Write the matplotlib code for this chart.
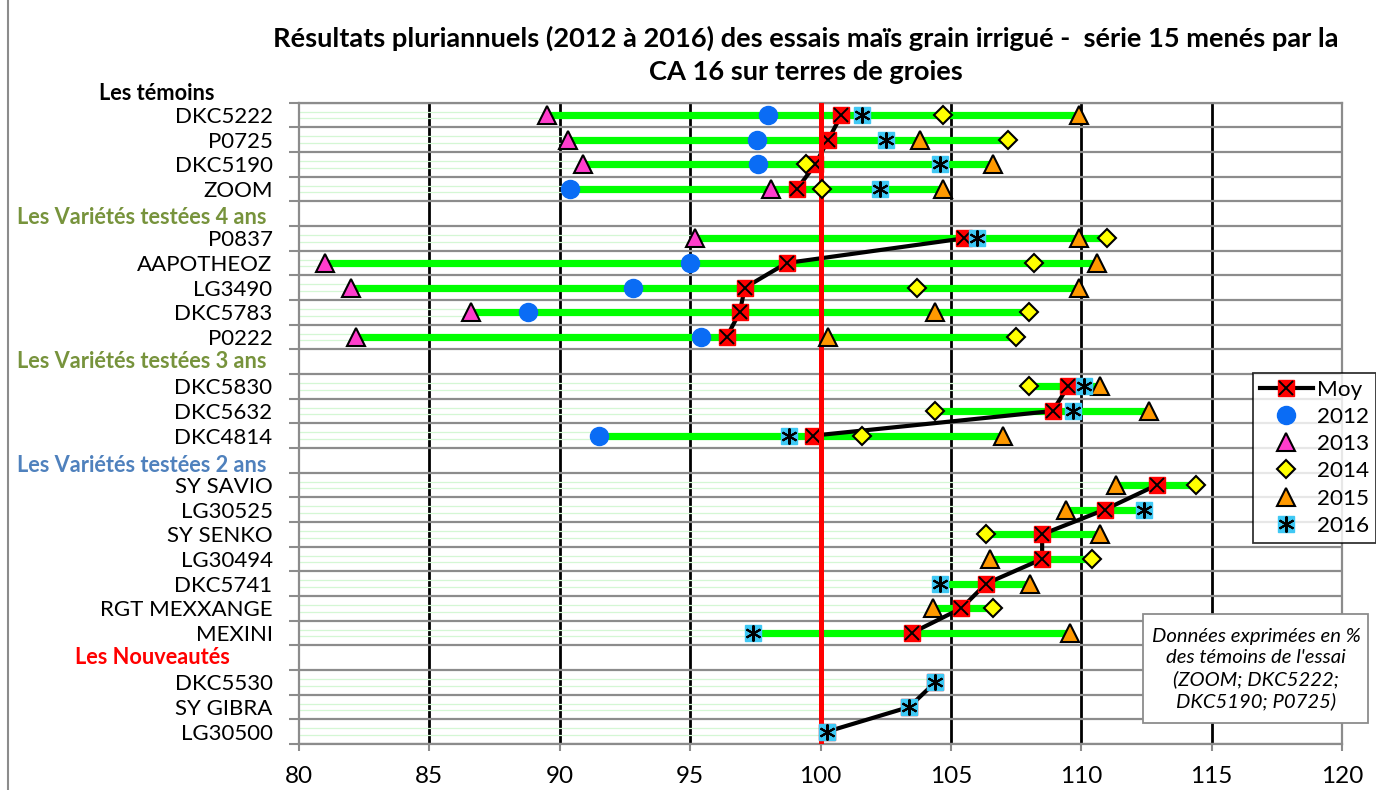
import matplotlib
matplotlib.use("Agg")
import matplotlib.pyplot as plt
import numpy as np
from matplotlib.lines import Line2D
from matplotlib.patches import Rectangle

nan = np.nan

rows = ["DKC5222", "P0725", "DKC5190", "ZOOM", "Les Variétés testées 4 ans",
        "P0837", "AAPOTHEOZ", "LG3490", "DKC5783", "P0222", "Les Variétés testées 3 ans",
        "DKC5830", "DKC5632", "DKC4814", "Les Variétés testées 2 ans",
        "SY SAVIO", "LG30525", "SY SENKO", "LG30494", "DKC5741", "RGT MEXXANGE", "MEXINI",
        "Les Nouveautés", "DKC5530", "SY GIBRA", "LG30500"]
headers = {"Les Variétés testées 4 ans": "#77933c", "Les Variétés testées 3 ans": "#77933c",
           "Les Variétés testées 2 ans": "#4f81bd", "Les Nouveautés": "#ff0000"}

moy = [100.8, 100.3, 99.8, 99.1, nan,
       105.5, 98.7, 97.1, 96.9, 96.4, nan,
       109.5, 108.9, 99.7, nan,
       112.9, 110.9, 108.5, 108.5, 106.35, 105.4, 103.5, nan,
       104.4, 103.4, 100.25]
y2012 = [98.0, 97.55, 97.6, 90.4, nan,
         nan, 95.0, 92.8, 88.8, 95.4, nan,
         nan, nan, 91.5, nan,
         nan, nan, nan, nan, nan, nan, nan, nan,
         nan, nan, nan]
y2013 = [89.5, 90.3, 90.9, 98.1, nan,
         95.2, 81.0, 82.0, 86.6, 82.2, nan,
         nan, nan, nan, nan,
         nan, nan, nan, nan, nan, nan, nan, nan,
         nan, nan, nan]
y2014 = [104.7, 107.2, 99.45, 100.05, nan,
         111.0, 108.2, 103.7, 108.0, 107.5, nan,
         108.0, 104.4, 101.6, nan,
         114.4, nan, 106.35, 110.4, nan, 106.6, nan, nan,
         nan, nan, nan]
y2015 = [109.9, 103.8, 106.6, 104.7, nan,
         109.9, 110.6, 109.9, 104.4, 100.3, nan,
         110.7, 112.6, 107.0, nan,
         111.35, 109.4, 110.7, 106.5, 108.05, 104.3, 109.55, nan,
         nan, nan, nan]
y2016 = [101.6, 102.5, 104.6, 102.3, nan,
         106.0, nan, nan, nan, nan, nan,
         110.1, 109.7, 98.8, nan,
         nan, 112.4, nan, nan, 104.6, nan, 97.4, nan,
         104.4, 103.4, 100.25]

FONT = "Lato"
W, H = 1376, 790
fig = plt.figure(figsize=(W / 100, H / 100), dpi=100)
fig.patch.set_facecolor("white")
ax = fig.add_axes([299 / W, 1 - 744 / H, (1342 - 299) / W, (744 - 102.7) / H])

pos = np.arange(len(rows))
years = np.array([y2012, y2013, y2014, y2015, y2016])
lo = np.nanmin(years, axis=0)
hi = np.nanmax(years, axis=0)

# faint leftover lines from 80 to the row minimum
for i in pos:
    if not np.isnan(lo[i]):
        for off in (-0.13, 0.13):
            ax.plot([80, lo[i]], [i + off, i + off], color="#d4f7d4", lw=0.9, zorder=1.5)

# min-max range bars
for i in pos:
    if not np.isnan(lo[i]) and hi[i] > lo[i]:
        ax.plot([lo[i], hi[i]], [i, i], color="#00ff00", lw=5.2, solid_capstyle="butt", zorder=2)

# vertical reference lines (under the row grid, so they look broken at each row)
for v in [85, 90, 95, 105, 110]:
    ax.axvline(v, color="black", lw=2.0, zorder=0.9)
ax.axvline(115, color="black", lw=2.0, zorder=1.8)
ax.axvline(100, color="#ff0000", lw=3.6, zorder=3.5)

# Moy line + markers
ax.plot(moy, pos, color="black", lw=3, zorder=3)
ax.plot(moy, pos, ls="none", marker="s", ms=11, mfc="#ff0000", mec="#ff0000", zorder=3.1)
ax.plot(moy, pos, ls="none", marker="x", ms=9.5, mec="black", mew=1.4, zorder=3.2)

ax.plot(y2012, pos, ls="none", marker="o", ms=13, mfc="#0a6cf5", mec="#0a6cf5", zorder=4)
ax.plot(y2013, pos, ls="none", marker="^", ms=13, mfc="#ff3dcc", mec="black", mew=1.5, zorder=4.1)
ax.plot(y2014, pos, ls="none", marker="D", ms=9.5, mfc="#ffff00", mec="black", mew=1.5, zorder=4.2)
ax.plot(y2015, pos, ls="none", marker="^", ms=13, mfc="#ff9900", mec="black", mew=1.5, zorder=4.3)
ax.plot(y2016, pos, ls="none", marker="s", ms=11, mfc="#3fc8f4", mec="#3fc8f4", zorder=4.4)
ax.plot(y2016, pos, ls="none", marker=(6, 2, 0), ms=11.5, mec="black", mew=1.5, zorder=4.5)

# axes styling
ax.set_xlim(80, 120)
ax.set_ylim(len(rows) - 0.5, -0.5)
ax.set_xticks(np.arange(80, 121, 5))
ax.set_xticklabels([str(v) for v in range(80, 121, 5)], fontsize=17.5, fontfamily=FONT)
ax.set_yticks(pos)
ax.set_yticklabels(["" if r in headers else r for r in rows], fontsize=16, fontfamily=FONT)
ax.set_yticks(np.arange(-0.5, len(rows), 1), minor=True)
ax.tick_params(axis="y", which="major", length=0, pad=19)
ax.tick_params(axis="y", which="minor", length=7, width=1.5, color="#8c8c8c")
ax.tick_params(axis="x", which="major", length=5, width=1.5, color="#8c8c8c", pad=11)
ax.grid(which="minor", axis="y", color="#8c8c8c", lw=1.6, zorder=1)
ax.set_axisbelow(False)
for s in ax.spines.values():
    s.set_color("#8c8c8c")
    s.set_linewidth(1.6)

# section headers
def px(x, y):
    return x / W, 1 - y / H

fig.text(*px(99, 93), "Les témoins", fontsize=15.7, fontweight="bold", fontfamily=FONT,
         color="black", ha="left", va="center")
header_y = {"Les Variétés testées 4 ans": (17, 217), "Les Variétés testées 3 ans": (17, 362),
            "Les Variétés testées 2 ans": (17, 466), "Les Nouveautés": (75, 658)}
for name, (hx, hy) in header_y.items():
    fig.text(*px(hx, hy), name, fontsize=15.7, fontweight="bold", fontfamily=FONT,
             color=headers[name], ha="left", va="center")

# title
fig.text(*px(806, 38), "Résultats pluriannuels (2012 à 2016) des essais maïs grain irrigué -  série 15 menés par la",
         fontsize=19.6, fontweight="bold", fontfamily=FONT, ha="center", va="center")
fig.text(*px(806, 72), "CA 16 sur terres de groies",
         fontsize=19.6, fontweight="bold", fontfamily=FONT, ha="center", va="center")

# legend
h_moy = (Line2D([], [], color="black", lw=3, marker="s", ms=11, mfc="#ff0000", mec="#ff0000"),
         Line2D([], [], ls="none", marker="x", ms=9.5, mec="black", mew=1.4))
h_2016 = (Line2D([], [], ls="none", marker="s", ms=11, mfc="#3fc8f4", mec="#3fc8f4"),
          Line2D([], [], ls="none", marker=(6, 2, 0), ms=11.5, mec="black", mew=1.5))
handles = [
    h_moy,
    Line2D([], [], ls="none", marker="o", ms=13, mfc="#0a6cf5", mec="#0a6cf5"),
    Line2D([], [], ls="none", marker="^", ms=13, mfc="#ff3dcc", mec="black", mew=1.5),
    Line2D([], [], ls="none", marker="D", ms=9.5, mfc="#ffff00", mec="black", mew=1.5),
    Line2D([], [], ls="none", marker="^", ms=13, mfc="#ff9900", mec="black", mew=1.5),
    h_2016,
]
leg = fig.legend(handles, ["Moy", "2012", "2013", "2014", "2015", "2016"],
                 loc="upper left", bbox_to_anchor=px(1253, 373), frameon=True, fancybox=False,
                 prop={"family": FONT, "size": 16.2}, handlelength=2.35, labelspacing=0.32,
                 borderpad=0.3, handletextpad=0.2, borderaxespad=0)
leg.get_frame().set_edgecolor("black")
leg.get_frame().set_linewidth(1.3)

# annotation box
fig.add_artist(Rectangle(px(1143, 723), (1368 - 1143) / W, (723 - 614) / H, transform=fig.transFigure,
                         facecolor="white", edgecolor="#8c8c8c", lw=1.3, zorder=5))
fig.text(*px(1256, 669), "Données exprimées en %\ndes témoins de l'essai\n(ZOOM; DKC5222;\nDKC5190; P0725)",
         fontsize=14.6, fontstyle="italic", fontfamily=FONT, ha="center", va="center",
         linespacing=1.3, zorder=6)

# chart area border
fig.add_artist(Line2D([8 / W, 8 / W], [0, 1], transform=fig.transFigure, color="#8c8c8c", lw=1.5))

fig.savefig("out.png", dpi=100)
